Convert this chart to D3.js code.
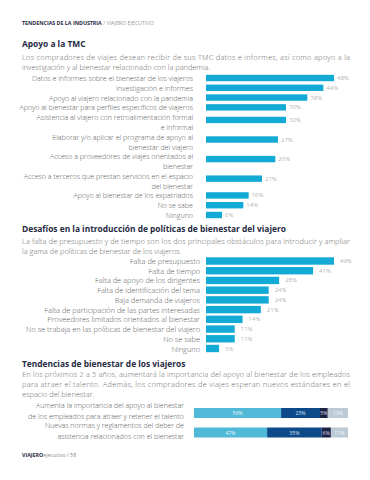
<!DOCTYPE html>
<html>
<head>
<meta charset="utf-8">
<script src="https://cdn.jsdelivr.net/npm/d3@7"></script>
<style>
  body { margin: 0; background: #fff; }
  svg { display: block; font-family: "Open Sans", sans-serif; }
</style>
</head>
<body>
<svg id="viz"></svg>
<script>
// Apoyo a la TMC
const tmcCategories = [
  "Datos e informes sobre el bienestar de los viajeros",
  "Investigación e informes",
  "Apoyo al viajero relacionado con la pandemia",
  "Apoyo al bienestar para perfiles específicos de viajeros",
  "Asistencia al viajero con retroalimentación formal\ne informal",
  "Elaborar y/o aplicar el programa de apoyo al\nbienestar del viajero",
  "Acceso a proveedores de viajes orientados al\nbienestar",
  "Acceso a terceros que prestan servicios en el espacio\ndel bienestar",
  "Apoyo al bienestar de los expatriados",
  "No se sabe",
  "Ninguno",
]
const tmcValues = [48, 44, 38, 30, 30, 27, 26, 21, 16, 14, 6]

// Desafíos
const obstacleCategories = [
  "Falta de presupuesto",
  "Falta de tiempo",
  "Falta de apoyo de los dirigentes",
  "Falta de identificación del tema",
  "Baja demanda de viajeros",
  "Falta de participación de las partes interesadas",
  "Proveedores limitados orientados al bienestar",
  "No se trabaja en las políticas de bienestar del viajero",
  "No se sabe",
  "Ninguno",
]
const obstacleValues = [49, 41, 28, 24, 24, 21, 14, 11, 11, 5]

// Tendencias (stacked)
const trendCategories = [
  "Aumenta la importancia del apoyo al bienestar\nde los empleados para atraer y retener el talento",
  "Nuevas normas y reglamentos del deber de\nasistencia relacionados con el bienestar",
]
const trendKeys = ["a", "b", "c", "d"]
const trendValues = [
  [56, 25, 5, 13],
  [47, 35, 6, 11],
]

const W = 370, H = 480
const left = 22
const barColor = "#14aad6"
const textColor = "#5a5a5a"
const headColor = "#262a3f"

const svg = d3.select("#viz").attr("width", W).attr("height", H)
svg.append("rect").attr("width", W).attr("height", H).attr("fill", "#fff")

// header
const hdr = svg.append("text").attr("x", left).attr("y", 23)
  .attr("dominant-baseline", "central").attr("font-size", 5.3)
hdr.append("tspan").attr("font-weight", 700).attr("fill", headColor).text("TENDENCIAS DE LA INDUSTRIA")
hdr.append("tspan").attr("fill", "#999").text(" / VIAJERO EJECUTIVO")

const heading = (y, txt) =>
  svg.append("text").attr("x", left).attr("y", y)
    .attr("dominant-baseline", "central")
    .attr("font-size", 8.4).attr("font-weight", 700).attr("fill", headColor)
    .text(txt)

const para = (y, lines, justify) =>
  lines.forEach((l, i) => {
    const t = svg.append("text").attr("x", left).attr("y", y + i * 10)
      .attr("dominant-baseline", "central").attr("font-weight", 300)
      .attr("font-size", 7.4).attr("fill", "#6a6a6a").text(l)
    if (justify && justify[i]) t.attr("textLength", justify[i]).attr("lengthAdjust", "spacing")
  })

heading(43, "Apoyo a la TMC")
para(57, [
  "Los compradores de viajes desean recibir de sus TMC datos e informes, así como apoyo a la",
  "investigación y al bienestar relacionado con la pandemia.",
], [328])

// chart 1
const x1 = d3.scaleLinear().domain([0, 48]).range([206, 334])
const lineCount = tmcCategories.map((c) => c.split("\n").length)
const startLine = lineCount.map((n, i) => d3.sum(lineCount.slice(0, i)))
const lineY = d3.scaleLinear().domain([0, d3.sum(lineCount) - 1]).range([78, 215])

const g1 = svg.append("g")
tmcCategories.forEach((c, i) => {
  c.split("\n").forEach((l, k) => {
    g1.append("text").attr("x", 193).attr("y", lineY(startLine[i] + k))
      .attr("text-anchor", "end").attr("dominant-baseline", "central")
      .attr("font-size", 7.1).attr("font-weight", 300).attr("fill", textColor).text(l)
  })
})
g1.selectAll("rect").data(tmcValues).join("rect")
  .attr("x", x1(0))
  .attr("y", (d, i) => lineY(startLine[i]) + (lineCount[i] - 1) * 2.8 - 3.2)
  .attr("width", (d) => x1(d) - x1(0))
  .attr("height", 6.4)
  .attr("fill", barColor)
g1.selectAll(".val").data(tmcValues).join("text")
  .attr("class", "val")
  .attr("x", (d) => x1(d) + 3)
  .attr("y", (d, i) => lineY(startLine[i]) + (lineCount[i] - 1) * 2.8)
  .attr("dominant-baseline", "central")
  .attr("font-size", 6).attr("font-weight", 300).attr("fill", "#888")
  .text((d) => d + "%")

// section 2
heading(228, "Desafíos en la introducción de políticas de bienestar del viajero")
para(241, [
  "La falta de presupuesto y de tiempo son los dos principales obstáculos para introducir y ampliar",
  "la gama de políticas de bienestar de los viajeros.",
], [328])

const x2 = d3.scaleLinear().domain([0, 49]).range([206, 334])
const y2 = d3.scalePoint().domain(obstacleCategories).range([261, 348.5])
const g2 = svg.append("g")
g2.selectAll(".lab").data(obstacleCategories).join("text")
  .attr("class", "lab")
  .attr("x", 200).attr("y", (d) => y2(d))
  .attr("text-anchor", "end").attr("dominant-baseline", "central")
  .attr("font-size", 7.4).attr("font-weight", 300).attr("fill", textColor).text((d) => d)
g2.selectAll("rect").data(obstacleValues).join("rect")
  .attr("x", x2(0))
  .attr("y", (d, i) => y2(obstacleCategories[i]) - 3.7)
  .attr("width", (d) => x2(d) - x2(0))
  .attr("height", 7.4)
  .attr("fill", barColor)
g2.selectAll(".val").data(obstacleValues).join("text")
  .attr("class", "val")
  .attr("x", (d) => x2(d) + 6)
  .attr("y", (d, i) => y2(obstacleCategories[i]))
  .attr("dominant-baseline", "central")
  .attr("font-size", 6).attr("font-weight", 300).attr("fill", "#888")
  .text((d) => d + "%")

// section 3
heading(363, "Tendencias de bienestar de los viajeros")
para(374, [
  "En los próximos 2 a 5 años, aumentará la importancia del apoyo al bienestar de los empleados",
  "para atraer el talento. Además, los compradores de viajes esperan nuevos estándares en el",
  "espacio del bienestar.",
], [328, 328])

const stackColors = ["#4fb9d7", "#0c4a8a", "#1c2446", "#bccad6"]
const stackText = ["#e8f6fb", "#cfe0f0", "#dde", "#f4f7fa"]
const rows = trendValues.map((v) => Object.fromEntries(trendKeys.map((k, i) => [k, v[i]])))
const series = d3.stack().keys(trendKeys)(rows)
const x3 = d3.scaleLinear().domain([0, 99]).range([194, 348])
const y3 = d3.scalePoint().domain(trendCategories).range([413, 432.5])
const g3 = svg.append("g")
trendCategories.forEach((c) => {
  c.split("\n").forEach((l, k) => {
    g3.append("text").attr("x", 184).attr("y", y3(c) - 8 + k * 11)
      .attr("text-anchor", "end").attr("dominant-baseline", "central")
      .attr("font-size", 7.1).attr("font-weight", 300).attr("fill", textColor).text(l)
  })
})
series.forEach((s, si) => {
  const sg = g3.append("g")
  sg.selectAll("rect").data(s).join("rect")
    .attr("x", (d) => x3(d[0]))
    .attr("y", (d, i) => y3(trendCategories[i]) - 5)
    .attr("width", (d) => x3(d[1]) - x3(d[0]))
    .attr("height", 10)
    .attr("fill", stackColors[si])
  sg.selectAll("text").data(s).join("text")
    .attr("x", (d) => (x3(d[0]) + x3(d[1])) / 2)
    .attr("y", (d, i) => y3(trendCategories[i]))
    .attr("text-anchor", "middle").attr("dominant-baseline", "central")
    .attr("font-size", 5.2).attr("fill", stackText[si])
    .text((d) => d[1] - d[0] + "%")
})

// footer
const ft = svg.append("text").attr("x", left).attr("y", 455)
  .attr("dominant-baseline", "central").attr("font-size", 5.3)
ft.append("tspan").attr("font-weight", 700).attr("fill", headColor).text("VIAJERO")
ft.append("tspan").attr("fill", "#888").text("ejecutivo / 58")
</script>
</body>
</html>
